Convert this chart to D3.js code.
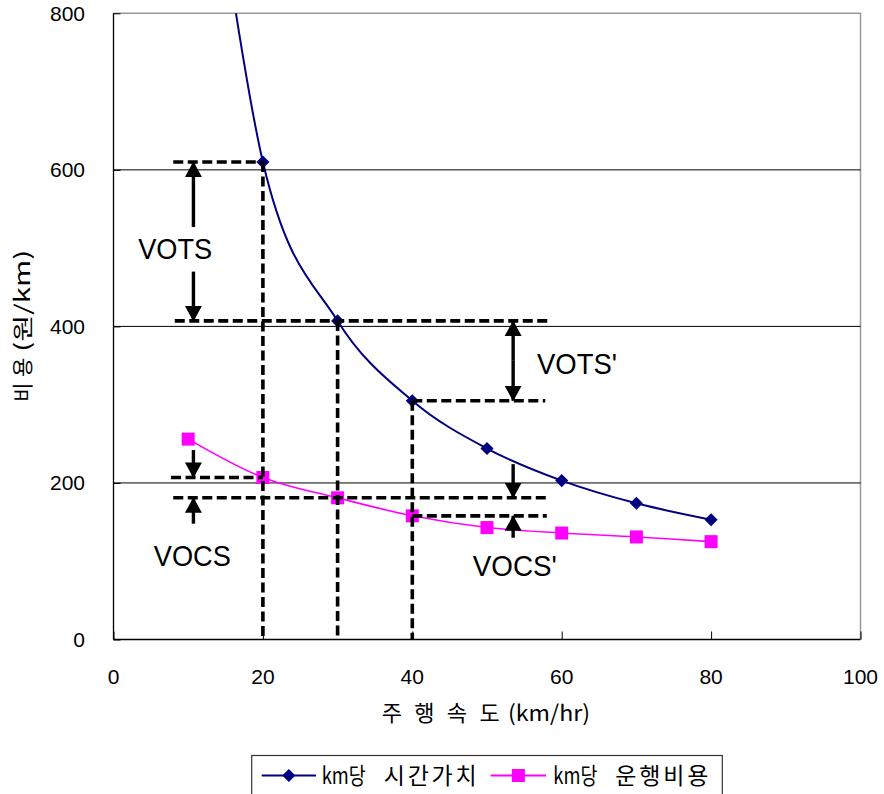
<!DOCTYPE html>
<html>
<head>
<meta charset="utf-8">
<script src="https://cdn.jsdelivr.net/npm/d3@7"></script>
<style>
  html, body { margin: 0; padding: 0; background: #fff; }
  svg { display: block; }
  text { font-family: "Liberation Sans", Arial, "Noto Sans CJK KR", sans-serif; fill: #000; }
  .kr { font-family: "Noto Sans CJK KR", "Liberation Sans", sans-serif; }
</style>
</head>
<body>
<svg id="chart" width="884" height="794"></svg>
<script>
// Running speed (km/h) at which each cost is evaluated
const speeds = [10, 20, 30, 40, 50, 60, 70, 80];
// Time value per km (원/km)
const timeValue = [1220, 610, 407, 305, 244, 203, 174, 153];
// Vehicle operating cost per km (원/km)
const operatingCost = [256, 207, 181, 158, 143, 136, 131, 125];

const xTicks = [0, 20, 40, 60, 80, 100];
const yTicks = [0, 200, 400, 600, 800];

const seriesNames = ["km당 시간가치", "km당 운행비용"];
const seriesColors = ["#000080", "#FF00FF"];

const xTitle = ["주 행 속 도", "(km/hr)"];
const yTitle = ["비 용", "(원/km)"];

// Annotation labels
const annoLabels = ["VOTS", "VOTS'", "VOCS", "VOCS'"];

const svg = d3.select("#chart");

const x = d3.scaleLinear().domain([0, 100]).range([113.5, 860.5]);
const y = d3.scaleLinear().domain([0, 800]).range([639.5, 13.3]);

const defs = svg.append("defs");

// Clip region = plot area
defs.append("clipPath").attr("id", "plotClip")
  .append("rect")
  .attr("x", x(0)).attr("y", y(800))
  .attr("width", x(100) - x(0)).attr("height", y(0) - y(800));

// Arrowhead marker
defs.append("marker")
  .attr("id", "head")
  .attr("viewBox", "0 0 16 18")
  .attr("refX", 15).attr("refY", 9)
  .attr("markerWidth", 16).attr("markerHeight", 18)
  .attr("markerUnits", "userSpaceOnUse")
  .attr("orient", "auto")
  .append("path").attr("d", "M0,0.5 L15.5,9 L0,17.5 Z").attr("fill", "#000");

// Plot-area frame (top and right edges, gray)
svg.append("path")
  .attr("d", `M${x(0)},${y(800)} H${x(100)} V${y(0)}`)
  .attr("fill", "none").attr("stroke", "#999").attr("stroke-width", 1.5);

// Horizontal gridlines
svg.append("g").selectAll("line")
  .data(yTicks.filter(d => d > 0 && d < 800))
  .join("line")
  .attr("x1", x(0)).attr("x2", x(100))
  .attr("y1", d => y(d)).attr("y2", d => y(d))
  .attr("stroke", "#000").attr("stroke-width", 1);

// Y axis
const yAxis = svg.append("g")
  .attr("transform", `translate(${x(0)},0)`)
  .call(d3.axisRight(y).tickValues(yTicks).tickSize(7).tickFormat(""));
yAxis.select(".domain").attr("stroke", "#000").attr("stroke-width", 1.3)
  .attr("d", `M0,${y(0)}V${y(800)}`);
yAxis.selectAll(".tick line").attr("stroke", "#000");

svg.append("g").selectAll("text")
  .data(yTicks).join("text")
  .attr("x", 85).attr("y", d => y(d) + 7.5)
  .attr("text-anchor", "end")
  .attr("font-size", 21)
  .text(d => d);

// X axis
const xAxis = svg.append("g")
  .attr("transform", `translate(0,${y(0)})`)
  .call(d3.axisTop(x).tickValues(xTicks).tickSize(8).tickFormat(""));
xAxis.select(".domain").attr("stroke", "#000").attr("stroke-width", 1.3)
  .attr("d", `M${x(0)},0H${x(100)}`);
xAxis.selectAll(".tick line").attr("stroke", "#000");

svg.append("g").selectAll("text")
  .data(xTicks).join("text")
  .attr("x", d => x(d)).attr("y", 683.5)
  .attr("text-anchor", "middle")
  .attr("font-size", 21)
  .text(d => d);

// Text in pieces: Korean words spread out, the unit kept tight
function pieces(g, parts) {
  parts.forEach(p => {
    g.append("text").attr("class", "kr")
      .attr("x", p.x).attr("y", 0)
      .attr("font-size", p.size)
      .attr("textLength", p.len)
      .attr("lengthAdjust", p.adj || "spacing")
      .text(p.t);
  });
}

// Axis titles
pieces(svg.append("g").attr("transform", "translate(0,721)"), [
  { t: xTitle[0], x: 381.7, len: 118, size: 22 },
  { t: xTitle[1], x: 508, len: 82, size: 22, adj: "spacingAndGlyphs" }
]);
pieces(svg.append("g").attr("transform", "translate(30,401.7) rotate(-90)"), [
  { t: yTitle[0], x: 0, len: 44, size: 21 },
  { t: yTitle[1], x: 50, len: 102, size: 21, adj: "spacingAndGlyphs" }
]);

// Series
const series = [timeValue, operatingCost].map((vals, i) => ({
  name: seriesNames[i],
  color: seriesColors[i],
  points: speeds.map((s, j) => ({ x: s, y: vals[j] }))
}));

const line = d3.line()
  .x(d => x(d.x)).y(d => y(d.y))
  .curve(d3.curveCardinal.tension(0));

const plot = svg.append("g").attr("clip-path", "url(#plotClip)");

series.forEach((s, i) => {
  plot.append("path")
    .datum(s.points)
    .attr("d", line)
    .attr("fill", "none")
    .attr("stroke", s.color)
    .attr("stroke-width", i === 0 ? 2 : 1.6);
});

const diamondPath = d3.symbol().type(d3.symbolSquare).size(86);

plot.append("g").selectAll("path")
  .data(series[0].points).join("path")
  .attr("d", diamondPath)
  .attr("transform", d => `translate(${x(d.x)},${y(d.y)}) rotate(45)`)
  .attr("fill", seriesColors[0]);

plot.append("g").selectAll("rect")
  .data(series[1].points).join("rect")
  .attr("x", d => x(d.x) - 6.5).attr("y", d => y(d.y) - 6.5)
  .attr("width", 13).attr("height", 13)
  .attr("fill", seriesColors[1]);

// Dashed guide lines tying speeds to their cost levels
const dashStyle = g => g.attr("stroke", "#000").attr("stroke-width", 3.6)
  .attr("stroke-dasharray", "10,4.5").attr("fill", "none");

const hGuides = [
  { x0: 8.0, x1: 20, v: timeValue[1] },
  { x0: 8.2, x1: 58.3, v: timeValue[2] },
  { x0: 40, x1: 57.8, v: timeValue[3] },
  { x0: 7.7, x1: 20, v: operatingCost[1] },
  { x0: 8.0, x1: 58.0, v: operatingCost[2] },
  { x0: 40, x1: 58.0, v: operatingCost[3] }
];
const vGuides = [
  { s: 20, v: timeValue[1] },
  { s: 30, v: timeValue[2] },
  { s: 40, v: timeValue[3] }
];

const guides = svg.append("g");
guides.selectAll("line.h").data(hGuides).join("line").attr("class", "h")
  .attr("x1", d => x(d.x0)).attr("x2", d => x(d.x1))
  .attr("y1", d => y(d.v)).attr("y2", d => y(d.v))
  .call(dashStyle);
guides.selectAll("line.v").data(vGuides).join("line").attr("class", "v")
  .attr("x1", d => x(d.s)).attr("x2", d => x(d.s))
  .attr("y1", d => y(d.v)).attr("y2", y(0))
  .call(dashStyle);

// Difference arrows
const arrows = [
  { s: 10.7, from: 527, to: timeValue[1] },
  { s: 10.7, from: 470, to: timeValue[2] },
  { s: 53.5, from: 356, to: timeValue[2] },
  { s: 53.5, from: 356, to: timeValue[3] },
  { s: 10.7, from: 242, to: operatingCost[1] },
  { s: 10.7, from: 148, to: operatingCost[2] },
  { s: 53.5, from: 224, to: operatingCost[2] },
  { s: 53.5, from: 130, to: operatingCost[3] }
];
svg.append("g").selectAll("line").data(arrows).join("line")
  .attr("x1", d => x(d.s)).attr("x2", d => x(d.s))
  .attr("y1", d => y(d.from)).attr("y2", d => y(d.to))
  .attr("stroke", "#000").attr("stroke-width", 3.4)
  .attr("marker-end", "url(#head)");

// Annotation labels
const annos = [
  { t: annoLabels[0], s: 3.3, v: 486, w: 74 },
  { t: annoLabels[1], s: 56.7, v: 339, w: 80 },
  { t: annoLabels[2], s: 5.4, v: 94, w: 77 },
  { t: annoLabels[3], s: 48.1, v: 81.5, w: 84 }
];
svg.append("g").selectAll("text").data(annos).join("text")
  .attr("x", d => x(d.s)).attr("y", d => y(d.v))
  .attr("font-size", 30)
  .attr("textLength", d => d.w)
  .attr("lengthAdjust", "spacingAndGlyphs")
  .text(d => d.t);

// Legend
const legend = svg.append("g");
legend.append("rect")
  .attr("x", 251.7).attr("y", 755.5)
  .attr("width", 470.6).attr("height", 45)
  .attr("fill", "#fff").attr("stroke", "#333").attr("stroke-width", 1.2);

const legendItems = [
  { x0: 261.7, x1: 316, tx: 321.7 },
  { x0: 490.7, x1: 546, tx: 553.3 }
];
legendItems.forEach((it, i) => {
  const cy = 775.5;
  legend.append("line")
    .attr("x1", it.x0).attr("x2", it.x1).attr("y1", cy).attr("y2", cy)
    .attr("stroke", seriesColors[i]).attr("stroke-width", 2);
  const mx = (it.x0 + it.x1) / 2;
  if (i === 0) {
    legend.append("path")
      .attr("d", diamondPath)
      .attr("transform", `translate(${mx},${cy}) rotate(45)`)
      .attr("fill", seriesColors[i]);
  } else {
    legend.append("rect")
      .attr("x", mx - 6.5).attr("y", cy - 6.5).attr("width", 13).attr("height", 13)
      .attr("fill", seriesColors[i]);
  }
  const [head, tail] = seriesNames[i].split(" ");
  pieces(legend.append("g").attr("transform", `translate(0,${cy + 8.5})`), [
    { t: head, x: it.tx, len: 44, size: 23, adj: "spacingAndGlyphs" },
    { t: tail, x: it.tx + 62, len: 93, size: 23 }
  ]);
});
</script>
</body>
</html>
